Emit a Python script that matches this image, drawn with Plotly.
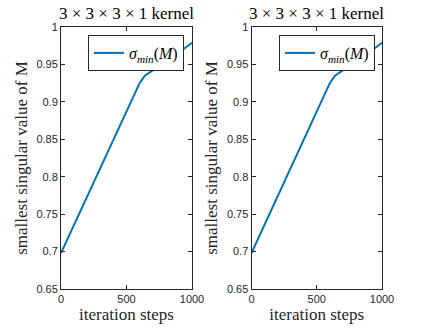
import plotly.graph_objects as go

steps = [0, 100, 200, 300, 400, 500, 560, 600, 640, 700, 800, 900, 1000]
sigma_min = [0.698, 0.736, 0.775, 0.813, 0.851, 0.889, 0.912, 0.925, 0.935, 0.942, 0.954, 0.966, 0.979]

panel_titles = ["3 × 3 × 3 × 1 kernel", "3 × 3 × 3 × 1 kernel"]
legend_name = "<i>σ<sub>min</sub></i>(<i>M</i>)"
x_label = "iteration steps"
y_label = "smallest singular value of M"
x_ticks = [0, 500, 1000]
x_ticklabels = ["0", "500", "1000"]
y_ticks = [0.65, 0.7, 0.75, 0.8, 0.85, 0.9, 0.95, 1.0]
y_ticklabels = ["0.65", "0.7", "0.75", "0.8", "0.85", "0.9", "0.95", "1"]

W, H = 437, 334
serif = "Times New Roman, Liberation Serif, DejaVu Serif, serif"
sans = "Liberation Sans"
axcol = "#262626"
blue = "#0072BD"

fig = go.Figure()

xdoms = [[61 / W, 192 / W], [251.5 / W, 382 / W]]
ydom = [1 - 289 / H, 1 - 27 / H]
legend_x = [88 / W, 279 / W]

for i in range(2):
    xa = "x" if i == 0 else "x2"
    ya = "y" if i == 0 else "y2"
    fig.add_trace(go.Scatter(
        x=steps, y=sigma_min, mode="lines", name=legend_name,
        line=dict(color=blue, width=2),
        xaxis=xa, yaxis=ya,
        legend="legend" if i == 0 else "legend2",
        showlegend=True,
    ))

axis_common = dict(
    showline=True, linecolor=axcol, linewidth=1, mirror="ticks",
    ticks="inside", ticklen=4, tickcolor=axcol, tickwidth=1,
    showgrid=False, zeroline=False, automargin=False,
    tickfont=dict(family=sans, size=11, color=axcol),
)

for i in range(2):
    sfx = "" if i == 0 else "2"
    fig.update_layout(**{
        "xaxis" + sfx: dict(
            domain=xdoms[i], range=[0, 1000], anchor="y" + sfx,
            tickvals=x_ticks, ticktext=x_ticklabels,
            title=dict(text=x_label, font=dict(family=serif, size=17, color=axcol), standoff=2),
            **axis_common),
        "yaxis" + sfx: dict(
            domain=ydom, range=[0.65, 1.0], anchor="x" + sfx,
            tickvals=y_ticks, ticktext=y_ticklabels,
            title=dict(text=y_label, font=dict(family=serif, size=17, color=axcol), standoff=4),
            **axis_common),
    })
    fig.add_annotation(
        x=(xdoms[i][0] + xdoms[i][1]) / 2, y=1 - 13 / H, xref="paper", yref="paper",
        text=panel_titles[i], showarrow=False,
        font=dict(family=serif, size=17, color="black"),
        xanchor="center", yanchor="middle",
    )

leg_common = dict(
    bgcolor="white", bordercolor=axcol, borderwidth=1,
    font=dict(family=serif, size=16, color="black"),
    xanchor="left", yanchor="top", y=1 - 35 / H,
    itemwidth=30, tracegroupgap=0,
)
fig.update_layout(
    legend=dict(x=legend_x[0], **leg_common),
    legend2=dict(x=legend_x[1], **leg_common),
    width=W, height=H,
    margin=dict(l=0, r=0, t=0, b=0, autoexpand=False),
    paper_bgcolor="white", plot_bgcolor="white",
)

fig.write_html("out.html", config={"displayModeBar": False},
               post_script="document.body.style.margin='0';")
